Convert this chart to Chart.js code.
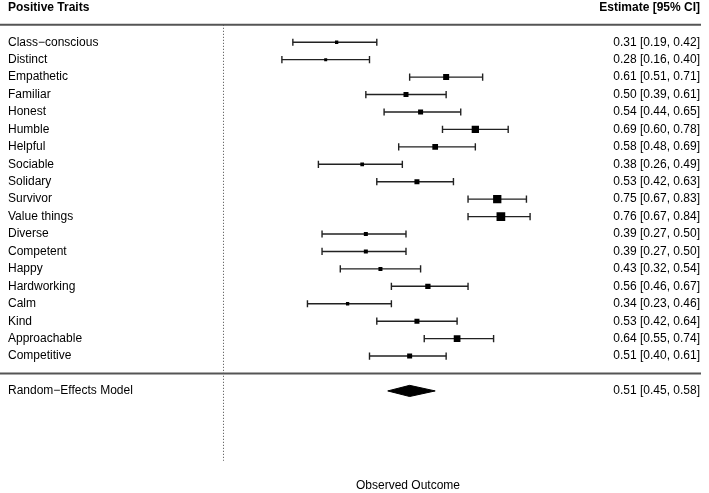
<!DOCTYPE html>
<html>
<head>
<meta charset="utf-8">
<script src="https://cdn.jsdelivr.net/npm/chart.js@4"></script>
<style>
  html, body { margin: 0; padding: 0; background: #fff; }
  #wrap { width: 709px; height: 493px; }
</style>
</head>
<body>
<div id="wrap"><canvas id="forest"></canvas></div>
<script>
const traits = ['Class\u2212conscious', 'Distinct', 'Empathetic', 'Familiar', 'Honest', 'Humble', 'Helpful',
  'Sociable', 'Solidary', 'Survivor', 'Value things', 'Diverse', 'Competent', 'Happy', 'Hardworking',
  'Calm', 'Kind', 'Approachable', 'Competitive']
const estimates = [0.31, 0.28, 0.61, 0.50, 0.54, 0.69, 0.58, 0.38, 0.53, 0.75, 0.76, 0.39, 0.39, 0.43, 0.56, 0.34, 0.53, 0.64, 0.51]
const lower = [0.19, 0.16, 0.51, 0.39, 0.44, 0.60, 0.48, 0.26, 0.42, 0.67, 0.67, 0.27, 0.27, 0.32, 0.46, 0.23, 0.42, 0.55, 0.40]
const upper = [0.42, 0.40, 0.71, 0.61, 0.65, 0.78, 0.69, 0.49, 0.63, 0.83, 0.84, 0.50, 0.50, 0.54, 0.67, 0.46, 0.64, 0.74, 0.61]
// relative study weights (%)
const weights = [3.3, 3.0, 6.0, 5.0, 5.0, 7.3, 5.7, 3.7, 5.0, 8.3, 8.7, 4.0, 4.0, 4.0, 5.3, 3.3, 5.0, 6.7, 5.0]
const pooledLabel = 'Random\u2212Effects Model'
const pooledEst = 0.51
const pooledLower = 0.45
const pooledUpper = 0.58
const headerLeft = 'Positive Traits'
const headerRight = 'Estimate [95% CI]'
const xTitle = 'Observed Outcome'

const k = traits.length
const rows = traits.map((t, i) => k - i)     // 19 .. 1
const pooledRow = -1
const headerRow = k + 2
const fmt = (v) => v.toFixed(2)

const leftLabels = {}
const rightLabels = {}
rows.forEach((r, i) => {
  leftLabels[r] = traits[i]
  rightLabels[r] = `${fmt(estimates[i])} [${fmt(lower[i])}, ${fmt(upper[i])}]`
})
leftLabels[pooledRow] = pooledLabel
rightLabels[pooledRow] = `${fmt(pooledEst)} [${fmt(pooledLower)}, ${fmt(pooledUpper)}]`
leftLabels[headerRow] = headerLeft
rightLabels[headerRow] = headerRight
const tickRows = [headerRow, ...rows, pooledRow]

// CI segments, separated by null gaps
const ciData = []
rows.forEach((r, i) => {
  ciData.push({x: lower[i], y: r}, {x: upper[i], y: r}, {x: null, y: null})
})
const capData = []
rows.forEach((r, i) => {
  capData.push({x: lower[i], y: r}, {x: upper[i], y: r})
})
const diamondH = 0.32
const diamondData = [
  {x: pooledLower, y: pooledRow},
  {x: pooledEst, y: pooledRow + diamondH},
  {x: pooledUpper, y: pooledRow},
  {x: pooledEst, y: pooledRow - diamondH},
  {x: pooledLower, y: pooledRow}
]

Chart.defaults.font.family = "'Liberation Sans', Arial, Helvetica, sans-serif"
Chart.defaults.font.size = 12
Chart.defaults.color = '#000'

const tickFont = (ctx) => (ctx.tick && ctx.tick.value === headerRow)
  ? {size: 12, weight: 'bold'} : {size: 12, weight: 'normal'}

const separators = {
  id: 'separators',
  afterDatasetsDraw(chart) {
    const y = chart.scales.y
    const ctx = chart.ctx
    ctx.save()
    ctx.strokeStyle = '#555'
    ctx.lineWidth = 2
    ;[k + 1, 0].forEach(v => {
      const py = y.getPixelForValue(v)
      ctx.beginPath()
      ctx.moveTo(0, py)
      ctx.lineTo(701, py)
      ctx.stroke()
    })
    ctx.restore()
  }
}

function fitRows(width) {
  return (scale) => {
    scale.width = width
    scale.paddingTop = 0
    scale.paddingBottom = 0
  }
}

const yMin = -5.57
const yMax = 21.07

new Chart(document.getElementById('forest'), {
  type: 'scatter',
  data: {
    datasets: [
      {
        label: 'boxes',
        data: rows.map((r, i) => ({x: estimates[i], y: r})),
        pointStyle: 'rect',
        pointRadius: weights.map(w => w / (2 * Math.SQRT1_2)),
        backgroundColor: '#000',
        borderWidth: 0
      },
      {
        label: 'caps',
        data: capData,
        pointStyle: 'line',
        rotation: 90,
        pointRadius: 3.6,
        borderColor: '#222',
        borderWidth: 1.4
      },
      {
        type: 'line',
        label: 'ci',
        data: ciData,
        borderColor: '#222',
        borderWidth: 1.4,
        pointRadius: 0,
        spanGaps: false
      },
      {
        type: 'line',
        label: 'pooled',
        data: diamondData,
        borderColor: '#000',
        backgroundColor: '#000',
        borderWidth: 1,
        pointRadius: 0,
        tension: 0,
        fill: 'shape'
      },
      {
        type: 'line',
        label: 'zero',
        data: [{x: 0, y: k + 1}, {x: 0, y: -5}],
        borderColor: '#444',
        borderWidth: 1,
        borderDash: [1, 2],
        pointRadius: 0
      }
    ]
  },
  options: {
    responsive: true,
    maintainAspectRatio: false,
    animation: false,
    layout: { padding: {left: 8, right: 9, top: 0, bottom: 0} },
    plugins: {
      legend: { display: false },
      tooltip: { enabled: false }
    },
    scales: {
      x: {
        type: 'linear',
        min: -0.0178,
        max: 1.0288,
        grid: { display: false },
        border: { display: false },
        ticks: { display: false },
        title: { display: true, text: xTitle, padding: {top: 0, bottom: 0}, font: {size: 12} }
      },
      y: {
        type: 'linear',
        position: 'left',
        min: yMin,
        max: yMax,
        grid: { display: false },
        border: { display: false },
        afterBuildTicks: (scale) => { scale.ticks = tickRows.map(v => ({value: v})) },
        afterFit: fitRows(209),
        ticks: {
          crossAlign: 'far',
          padding: 0,
          autoSkip: false,
          font: tickFont,
          callback: (v) => leftLabels[v] ?? ''
        }
      },
      y2: {
        type: 'linear',
        position: 'right',
        min: yMin,
        max: yMax,
        grid: { display: false },
        border: { display: false },
        afterBuildTicks: (scale) => { scale.ticks = tickRows.map(v => ({value: v})) },
        afterFit: fitRows(101),
        ticks: {
          crossAlign: 'far',
          padding: 0,
          autoSkip: false,
          font: tickFont,
          callback: (v) => rightLabels[v] ?? ''
        }
      }
    }
  },
  plugins: [separators]
})
</script>
</body>
</html>
